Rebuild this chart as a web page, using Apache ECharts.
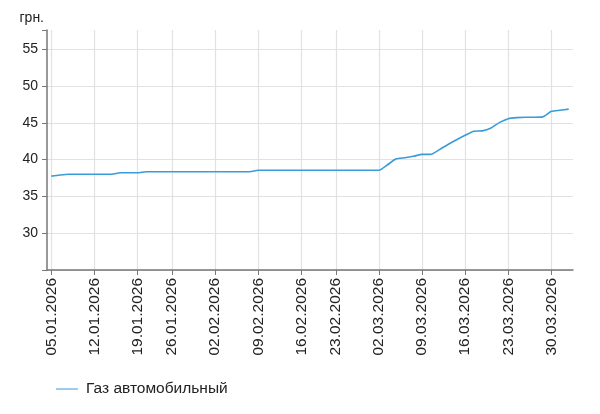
<!DOCTYPE html>
<html>
<head>
<meta charset="utf-8">
<script src="https://cdn.jsdelivr.net/npm/echarts@6/dist/echarts.min.js"></script>
<style>
html,body{margin:0;padding:0;background:#fff;}
#chart{width:600px;height:414px;}
</style>
</head>
<body>
<div id="chart"></div>
<script>
const dates = [
  '05.01.2026','06.01.2026','07.01.2026','08.01.2026','09.01.2026',
  '12.01.2026','13.01.2026','14.01.2026','15.01.2026','16.01.2026',
  '19.01.2026','20.01.2026','21.01.2026','22.01.2026',
  '26.01.2026','27.01.2026','28.01.2026','29.01.2026','30.01.2026',
  '02.02.2026','03.02.2026','04.02.2026','05.02.2026','06.02.2026',
  '09.02.2026','10.02.2026','11.02.2026','12.02.2026','13.02.2026',
  '16.02.2026','17.02.2026','18.02.2026','19.02.2026',
  '23.02.2026','24.02.2026','25.02.2026','26.02.2026','27.02.2026',
  '02.03.2026','03.03.2026','04.03.2026','05.03.2026','06.03.2026',
  '09.03.2026','10.03.2026','11.03.2026','12.03.2026','13.03.2026',
  '16.03.2026','17.03.2026','18.03.2026','19.03.2026','20.03.2026',
  '23.03.2026','24.03.2026','25.03.2026','26.03.2026','27.03.2026',
  '30.03.2026','31.03.2026','01.04.2026'
];
const gasPrices = [
  37.75, 37.9, 38.0, 38.0, 38.0,
  38.0, 38.0, 38.0, 38.2, 38.2,
  38.2, 38.35, 38.35, 38.35,
  38.35, 38.35, 38.35, 38.35, 38.35,
  38.35, 38.35, 38.35, 38.35, 38.35,
  38.55, 38.55, 38.55, 38.55, 38.55,
  38.55, 38.55, 38.55, 38.55,
  38.55, 38.55, 38.55, 38.55, 38.55,
  38.55, 39.3, 40.1, 40.25, 40.45,
  40.7, 40.7, 41.35, 42.05, 42.7,
  43.3, 43.85, 43.9, 44.3, 45.05,
  45.55, 45.7, 45.75, 45.75, 45.8,
  46.55, 46.7, 46.85
];
const tickLabels = [
  '05.01.2026','12.01.2026','19.01.2026','26.01.2026','02.02.2026','09.02.2026',
  '16.02.2026','23.02.2026','02.03.2026','09.03.2026','16.03.2026','23.03.2026','30.03.2026'
];
const yLabels = [30, 35, 40, 45, 50, 55];
const seriesName = 'Газ автомобильный';
const unitName = 'грн.';

const showTick = (idx, val) => tickLabels.indexOf(val) >= 0;
const font = 'Liberation Sans, Arial, sans-serif';

const chart = echarts.init(document.getElementById('chart'), null, {renderer: 'canvas'});
chart.setOption({
  animation: false,
  textStyle: {fontFamily: font},
  grid: {left: 47, right: 27, top: 30, bottom: 144, containLabel: false},
  legend: {
    left: 51, top: 376,
    itemWidth: 22, itemHeight: 14, itemGap: 10,
    icon: 'path://M0,6.5L22,6.5L22,7.5L0,7.5Z',
    textStyle: {fontSize: 15.5, color: '#222', fontFamily: font, padding: [0, 0, 0, 3]},
    data: [seriesName]
  },
  xAxis: {
    type: 'category',
    data: dates,
    boundaryGap: true,
    axisLine: {lineStyle: {color: '#777', width: 1.5}},
    axisTick: {show: true, interval: showTick, alignWithLabel: true, length: 5, lineStyle: {color: '#777'}},
    axisLabel: {interval: showTick, rotate: 90, margin: 8, fontSize: 15.5, color: '#222', fontFamily: font},
    splitLine: {show: true, interval: showTick, alignWithLabel: true, lineStyle: {color: '#e2e2e2', width: 1.2}}
  },
  yAxis: {
    type: 'value',
    min: 25, max: 57.6, interval: 5,
    name: unitName,
    nameLocation: 'end',
    nameGap: 5,
    nameTextStyle: {fontSize: 14, color: '#222', align: 'right', verticalAlign: 'bottom', padding: [0, 3, 0, 0], fontFamily: font},
    axisLine: {show: true, lineStyle: {color: '#777', width: 1.5}},
    axisTick: {show: true, length: 5, lineStyle: {color: '#777'}},
    axisLabel: {
      margin: 9, fontSize: 14, color: '#222', fontFamily: font,
      formatter: v => (yLabels.indexOf(v) >= 0 ? String(v) : '')
    },
    splitLine: {show: true, lineStyle: {color: ['#e2e2e2','#e2e2e2','#e2e2e2','#e2e2e2','#e2e2e2','#e2e2e2','#e2e2e2','rgba(0,0,0,0)'], width: 1.2}}
  },
  series: [{
    name: seriesName,
    type: 'line',
    data: gasPrices,
    symbol: 'none',
    smooth: 0.2,
    lineStyle: {color: '#3a9bd9', width: 1.6},
    itemStyle: {color: '#3a9bd9'}
  }]
});
</script>
</body>
</html>
